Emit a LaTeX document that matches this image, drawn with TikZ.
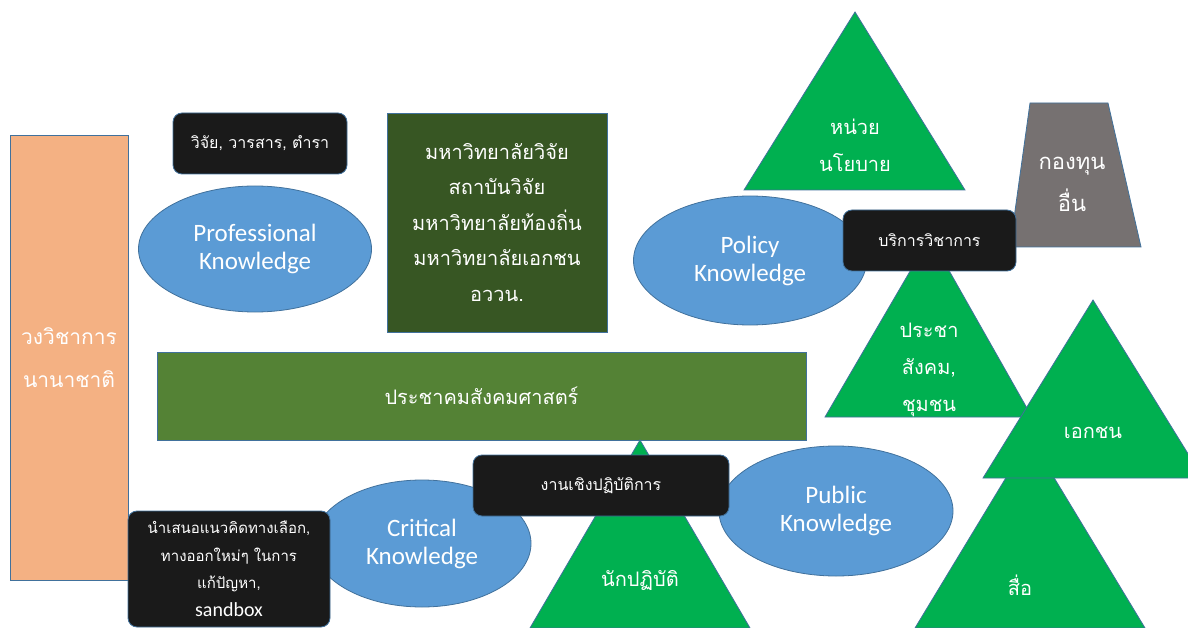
\documentclass[tikz,border=0pt]{standalone}
\usepackage{fontspec}
\setmainfont{Carlito}
\newfontfamily\thai[Script=Thai]{Loma}
\usetikzlibrary{shapes.geometric}

\definecolor{edgeblue}{HTML}{41719C}
\definecolor{knowblue}{HTML}{5B9BD5}
\definecolor{tagblack}{HTML}{1A1A1A}
\definecolor{peakgreen}{HTML}{00B050}
\definecolor{unigreen}{HTML}{375623}
\definecolor{socgreen}{HTML}{548235}
\definecolor{intlorange}{HTML}{F4B183}
\definecolor{fundgray}{HTML}{767171}

\tikzset{
  know/.style={ellipse, fill=knowblue, draw=edgeblue, line width=0.8pt,
    inner sep=0pt, text=white, align=center,
    font=\fontsize{25}{28}\selectfont},
  tagbox/.style={rectangle, rounded corners=9pt, fill=tagblack, draw=edgeblue,
    line width=0.8pt, inner sep=0pt, text=white, align=center},
  block/.style={rectangle, draw=edgeblue, line width=0.8pt, inner sep=0pt,
    text=white, align=center},
  peak/.style={fill=peakgreen, draw=edgeblue, line width=0.8pt},
  peaktext/.style={text=white, align=center,
    font=\thai\fontsize{20}{37}\selectfont}
}

\begin{document}
\begin{tikzpicture}[x=1pt, y=-1pt]
\useasboundingbox (0,0) rectangle (1188,628);

% left column and upper left
\node[block, fill=intlorange, minimum width=118pt, minimum height=445pt,
  font=\thai\fontsize{21}{43}\selectfont] (intl) at (69,357.5)
  {วงวิชาการ\\นานาชาติ};
\node[tagbox, minimum width=174pt, minimum height=61pt,
  font=\thai\fontsize{16}{20}\selectfont] (pubs) at (260,143.5)
  {วิจัย, วารสาร, ตำรา};
\node[know, minimum width=233pt, minimum height=126pt] (prof) at (255,249)
  {Professional\\Knowledge};
\node[block, fill=unigreen, minimum width=220pt, minimum height=219pt,
  font=\thai\fontsize{20}{35.5}\selectfont] (univ) at (497,222.5)
  {มหาวิทยาลัยวิจัย\\สถาบันวิจัย\\มหาวิทยาลัยท้องถิ่น\\มหาวิทยาลัยเอกชน\\อววน.};

% upper right
\filldraw[peak] (855,12) -- (965,190) -- (744,190) -- cycle;
\node[peaktext] (policyunit) at (855,145) {หน่วย\\นโยบาย};
\filldraw[fill=fundgray, draw=edgeblue, line width=0.8pt]
  (1030,103) -- (1108,103) -- (1141,247) -- (1010,247) -- cycle;
\node[text=white, align=center, font=\thai\fontsize{22}{42}\selectfont]
  (fund) at (1072,184) {กองทุน\\อื่น};
\node[know, minimum width=233pt, minimum height=129pt] (policy) at (750,260.5)
  {Policy\\Knowledge};
\filldraw[peak] (930,237) -- (1032,417) -- (825,417) -- cycle;
\node[peaktext] (civil) at (929,370) {ประชา\\สังคม,\\ชุมชน};
\node[tagbox, minimum width=173pt, minimum height=61pt,
  font=\thai\fontsize{16}{20}\selectfont] (service) at (929.5,240.5)
  {บริการวิชาการ};
\filldraw[peak] (1030,438) -- (1145,628) -- (915,628) -- cycle;
\node[peaktext] (media) at (1020,585) {สื่อ};
\filldraw[peak] (1093,300) -- (1203,478) -- (983,478) -- cycle;
\node[peaktext] (private) at (1093,433) {เอกชน};

% middle band
\node[block, fill=socgreen, minimum width=649pt, minimum height=88pt,
  font=\thai\fontsize{20}{24}\selectfont] (socsci) at (481.5,396)
  {ประชาคมสังคมศาสตร์};

% lower row
\node[know, minimum width=218pt, minimum height=127pt] (critical) at (422,543.5)
  {Critical\\Knowledge};
\node[know, minimum width=234pt, minimum height=130pt] (public) at (836,511)
  {Public\\Knowledge};
\filldraw[peak] (640,440) -- (750,628) -- (530,628) -- cycle;
\node[peaktext] (practice) at (640,580) {นักปฏิบัติ};
\node[tagbox, minimum width=256pt, minimum height=61pt,
  font=\thai\fontsize{16}{20}\selectfont] (workshop) at (601,485.5)
  {งานเชิงปฏิบัติการ};
\node[tagbox, minimum width=202pt, minimum height=116pt,
  font=\thai\fontsize{15}{27.5}\selectfont] (sandbox) at (229,569)
  {นำเสนอแนวคิดทางเลือก,\\ทางออกใหม่ๆ ในการ\\แก้ปัญหา,\\{\normalfont\fontsize{20}{27.5}\selectfont sandbox}};
\end{tikzpicture}
\end{document}
